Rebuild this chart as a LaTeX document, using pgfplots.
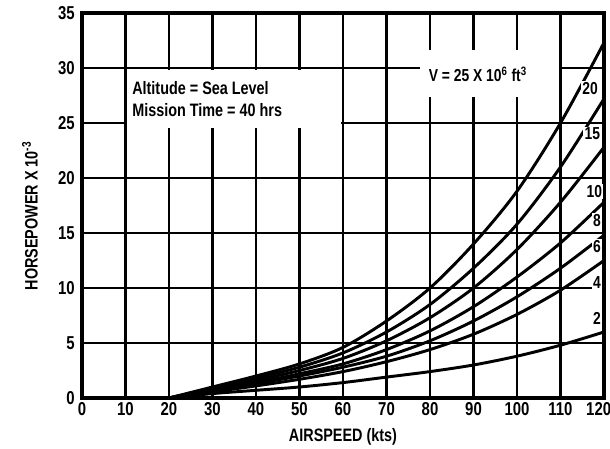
\documentclass[border=0pt]{standalone}
\usepackage{fontspec}
\setmainfont{Liberation Sans}[FakeStretch=0.8]
\usepackage{pgfplots}
\pgfplotsset{compat=1.18}
\pgfplotstableread{
x    a20   a15   a10   a8    a6    a4    a2
20   0.0   0.0   0.0   0.0   0.0   0.0   0.0
30   1.0   0.9   0.8   0.7   0.6   0.55  0.4
40   2.0   1.8   1.6   1.4   1.3   1.1   0.7
50   3.1   2.8   2.5   2.2   2.0   1.7   1.0
60   4.6   4.1   3.6   3.1   2.8   2.4   1.4
70   7.0   6.0   5.2   4.4   3.8   3.3   1.9
80   10.0  8.5   7.3   6.1   5.2   4.4   2.4
90   14.0  11.8  10.0  8.3   7.0   5.8   3.0
100  18.8  15.8  13.5  11.0  9.2   7.6   3.8
110  25.0  21.0  17.8  14.1  11.8  9.8   4.8
120  32.3  27.2  22.8  17.8  14.8  12.5  6.0
}\curves
\begin{document}
\begin{tikzpicture}
\useasboundingbox (-61.5pt,-38.25pt) rectangle (396pt,298.5pt);
\begin{axis}[
  at={(0,0)}, anchor=south west, scale only axis,
  width=391.5pt, height=288.75pt,
  xmin=0, xmax=120, ymin=0, ymax=35,
  xtick={0,10,...,110}, ytick={0,5,...,35},
  extra x ticks={120},
  extra x tick style={xticklabel style={xshift=-4pt}},
  grid=major, major grid style={black, line width=2pt},
  axis line style={line width=2.4pt},
  major tick length=0pt,
  tick label style={font=\fontsize{14}{16}\selectfont\bfseries},
  /pgf/number format/assume math mode=true,
  xticklabel style={yshift=0pt},
  yticklabel style={xshift=-2pt},
  xlabel={AIRSPEED (kts)},
  ylabel={HORSEPOWER X 10\textsuperscript{-3}},
  label style={font=\fontsize{13.5}{16}\selectfont\bfseries},
  xlabel style={at={(axis description cs:0.5,-0.10)}, anchor=center},
  ylabel style={at={(axis description cs:-0.0997,0.473)}, anchor=center},
  clip=true,
]
\foreach \c in {a20,a15,a10,a8,a6,a4,a2}{
  \addplot[black, line width=2.2pt, smooth] table[x=x, y=\c] {\curves};
}
\fill[white] (axis cs:10.4,24.5) rectangle (axis cs:59.6,29.8);
\node[anchor=west, align=left, font=\fontsize{13.5}{16.5}\selectfont\bfseries, inner sep=0pt]
  at (axis cs:11.5,27.2) {Altitude = Sea Level\\Mission Time = 40 hrs};
\fill[white] (axis cs:77.7,27.4) rectangle (axis cs:109.6,31.6);
\node[font=\fontsize{13}{15}\selectfont\bfseries, inner sep=0pt]
  at (axis cs:91,29.4) {V = 25 X 10\textsuperscript{6} ft\textsuperscript{3}};
\begin{scope}[every node/.style={font=\fontsize{13}{15}\selectfont\bfseries, inner sep=1pt, fill=white}]
\node at (axis cs:116.8,28.1) {20};
\node at (axis cs:117.3,24.0) {15};
\node at (axis cs:117.8,18.8) {10};
\node at (axis cs:118.4,16.1) {8};
\node at (axis cs:118.4,13.8) {6};
\node at (axis cs:118.4,10.5) {4};
\node at (axis cs:118.4,7.2) {2};
\end{scope}
\end{axis}
\end{tikzpicture}
\end{document}
